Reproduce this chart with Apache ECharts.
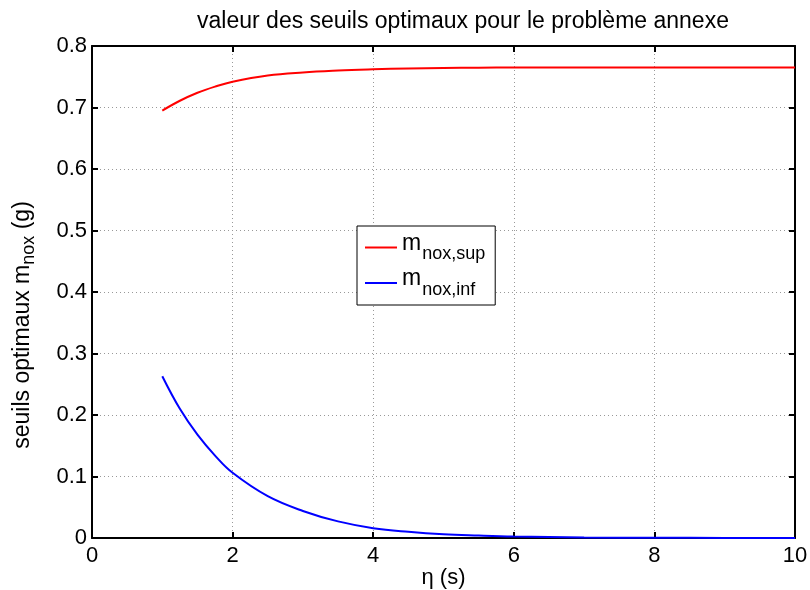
<!DOCTYPE html>
<html><head><meta charset="utf-8">
<script src="https://cdn.jsdelivr.net/npm/echarts@6/dist/echarts.min.js"></script>
<style>html,body{margin:0;padding:0;background:#fff}#c{width:810px;height:590px}</style>
</head><body><div id="c"></div>
<script>
const eta = [1, 1.25, 1.5, 1.75, 2, 2.5, 3, 3.5, 4, 4.5, 5, 5.5, 6, 7, 8, 9, 10];
const supVals = [0.695, 0.711, 0.724, 0.734, 0.742, 0.752, 0.757, 0.760, 0.762, 0.7635, 0.7643, 0.7647, 0.765, 0.765, 0.765, 0.765, 0.765];
const infVals = [0.263, 0.210, 0.168, 0.134, 0.106, 0.068, 0.044, 0.027, 0.016, 0.010, 0.006, 0.004, 0.0025, 0.001, 0.0004, 0.0002, 0.0001];
const xTicks = [0, 2, 4, 6, 8, 10];
const yTicks = [0, 0.1, 0.2, 0.3, 0.4, 0.5, 0.6, 0.7, 0.8];

const font = 'Liberation Sans, Arial, sans-serif';
const chart = echarts.init(document.getElementById('c'));
const pair = a => eta.map((x, i) => [x, a[i]]);
const grid = {left: 92, right: 15, top: 46, bottom: 52, containLabel: false, outerBoundsMode: 'none'};
const gridLine = {show: true, lineStyle: {color: '#999', type: [1, 3], width: 1}};
chart.setOption({
  animation: false,
  backgroundColor: '#fff',
  title: {text: 'valeur des seuils optimaux pour le problème annexe', left: 458, textAlign: 'center', top: 5,
    textStyle: {fontFamily: font, fontWeight: 'normal', fontSize: 23, color: '#000'}},
  grid: grid,
  legend: {
    left: 357, top: 226, orient: 'vertical', itemWidth: 32, itemHeight: 14, itemGap: 4,
    backgroundColor: '#fff', borderColor: '#000', borderWidth: 1, padding: [6, 10, 6, 8],
    icon: 'path://M0,6 L32,6 L32,8 L0,8 Z',
    data: [{name: 'sup'}, {name: 'inf'}],
    formatter: n => n === 'sup' ? '{m|m}{s|nox,sup}' : '{m|m}{s|nox,inf}',
    textStyle: {fontFamily: font, color: '#000', rich: {
      m: {fontSize: 23, fontFamily: font, color: '#000', padding: [0, 1, 8, 0]},
      s: {fontSize: 18, fontFamily: font, color: '#000', padding: [14, 0, 0, 0]}
    }}
  },
  xAxis: [{
    type: 'value', min: 0, max: 10, interval: 2, position: 'bottom',
    name: 'η (s)', nameLocation: 'middle', nameGap: 29, nameMoveOverlap: false,
    nameTextStyle: {fontFamily: font, fontSize: 22, color: '#000'},
    axisLine: {show: true, onZero: false, lineStyle: {color: '#000', width: 2}},
    axisTick: {show: true, inside: true, length: 6, lineStyle: {color: '#000', width: 2}},
    axisLabel: {fontFamily: font, fontSize: 22, color: '#000', margin: 7},
    splitLine: gridLine
  }, {
    type: 'value', min: 0, max: 10, interval: 2, position: 'top',
    axisLine: {show: true, onZero: false, lineStyle: {color: '#000', width: 2}},
    axisTick: {show: true, inside: true, length: 6, lineStyle: {color: '#000', width: 2}},
    axisLabel: {show: false}, splitLine: {show: false}
  }],
  yAxis: [{
    type: 'value', min: 0, max: 0.8, interval: 0.1, position: 'left',
    name: 'seuils optimaux m{s|nox} (g)', nameLocation: 'middle', nameGap: 54, nameMoveOverlap: false,
    nameTextStyle: {fontFamily: font, fontSize: 23, color: '#000', padding: [0, 66, 0, 0], rich: {
      s: {fontSize: 18, fontFamily: font, color: '#000', padding: [12, 0, 0, 0]}
    }},
    axisLine: {show: true, onZero: false, lineStyle: {color: '#000', width: 2}},
    axisTick: {show: true, inside: true, length: 6, lineStyle: {color: '#000', width: 2}},
    axisLabel: {fontFamily: font, fontSize: 22, color: '#000', margin: 5,
      formatter: v => yTicks.includes(+v.toFixed(1)) ? String(+v.toFixed(1)) : ''},
    splitLine: gridLine
  }, {
    type: 'value', min: 0, max: 0.8, interval: 0.1, position: 'right',
    axisLine: {show: true, onZero: false, lineStyle: {color: '#000', width: 2}},
    axisTick: {show: true, inside: true, length: 6, lineStyle: {color: '#000', width: 2}},
    axisLabel: {show: false}, splitLine: {show: false}
  }],
  series: [
    {name: 'sup', type: 'line', data: pair(supVals), smooth: 0.4, showSymbol: false,
     lineStyle: {color: '#ff0000', width: 2}, itemStyle: {color: '#ff0000'}},
    {name: 'inf', type: 'line', data: pair(infVals), smooth: 0.4, showSymbol: false,
     lineStyle: {color: '#0000ff', width: 2}, itemStyle: {color: '#0000ff'}}
  ]
});
</script></body></html>
